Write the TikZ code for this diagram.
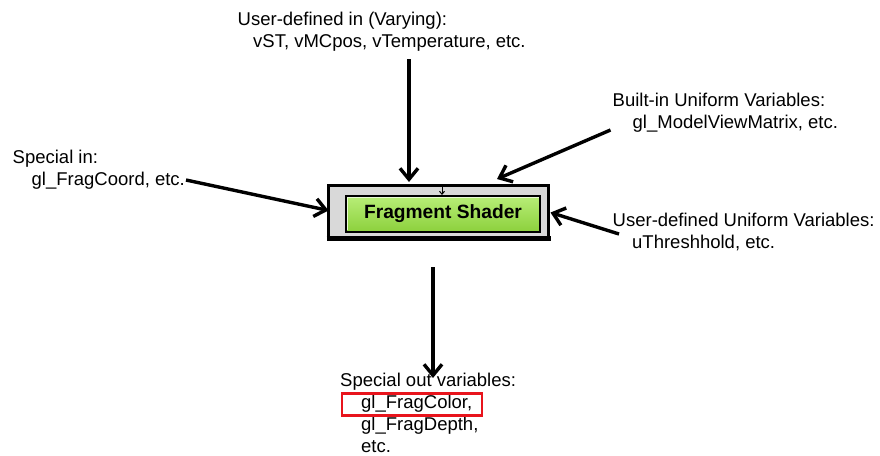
\documentclass[tikz,border=0pt]{standalone}
\usepackage{fontspec}
\setmainfont{Liberation Sans}
\usetikzlibrary{arrows.meta}
\definecolor{boxgray}{HTML}{D9D9D9}
\definecolor{greenA}{HTML}{B8EE78}
\definecolor{greenB}{HTML}{8CD03C}
\definecolor{hlred}{HTML}{E8141C}
\tikzset{
  lbl/.style={anchor=base west, inner sep=0pt, font=\fontsize{18.5}{22}\selectfont},
  arr/.style={line width=3.4pt, -{Straight Barb[length=11pt,width=18pt,line width=3.4pt]}},
  smallarr/.style={line width=1pt, -{Straight Barb[length=3pt,width=5pt,line width=1pt]}},
}
\begin{document}
\begin{tikzpicture}[x=1pt,y=-1pt]
\path[use as bounding box, fill=white] (0,0) rectangle (880,455);

% central shader box
\path[fill=boxgray, draw=black, line width=3pt] (328.5,185.5) rectangle (548.5,237) coordinate (obr);
\draw[line width=5pt] (326.5,238) -- (550.5,238);
\node[draw=black, line width=2pt, top color=greenA, bottom color=greenB,
      minimum width=194pt, minimum height=36pt, inner sep=0pt,
      font=\fontsize{19.2}{22}\bfseries\selectfont] (fs) at (443,214) {Fragment Shader};
\draw[white!70!greenA, line width=1pt] (347.5,229.5) -- (347.5,197.5) -- (538.5,197.5);
\coordinate (tickS) at (442,186.5);
\draw[smallarr] (tickS) -- (fs.north -| tickS);

% labels
\node[lbl] (top1) at (237.5,25) {User-defined in (Varying):};
\node[lbl] (top2) at (253,47) {vST, vMCpos, vTemperature, etc.};
\node[lbl] (bi1) at (612.5,106) {Built-in Uniform Variables:};
\node[lbl] (bi2) at (632.5,128) {gl\_ModelViewMatrix, etc.};
\node[lbl] (si1) at (12.5,163) {Special in:};
\node[lbl] (si2) at (31.5,185) {gl\_FragCoord, etc.};
\node[lbl] (ud1) at (612.5,226) {User-defined Uniform Variables:};
\node[lbl] (ud2) at (632,248) {uThreshhold, etc.};
\node[lbl] (so1) at (340,386) {Special out variables:};
\node[lbl] (so2) at (361,408) {gl\_FragColor,};
\node[lbl] (so3) at (361,430) {gl\_FragDepth,};
\node[lbl] (so4) at (361,452) {etc.};

% red highlight
\node[draw=hlred, line width=2.7pt, minimum width=140pt, minimum height=21.6pt, inner sep=0pt] (hl) at (412,404.5) {};

% arrow end points
\coordinate (aTopS) at (409,59);
\coordinate (aTopE) at (409,182);
\coordinate (aBiS) at (610.5,130);
\coordinate (aBiE) at (497,179);
\coordinate (aSiS) at (186,180);
\coordinate (aSiE) at (328.5,210.5);
\coordinate (aUdS) at (619,234);
\coordinate (aUdE) at (550.5,212.5);
\coordinate (aOutS) at (433,267);
\coordinate (aOutE) at (433,378);

\draw[arr] (aTopS) -- (aTopE);
\draw[arr] (aBiS) -- (aBiE);
\draw[arr] (aSiS) -- (aSiE);
\draw[arr] (aUdS) -- (aUdE);
\draw[arr] (aOutS) -- (aOutE);
\end{tikzpicture}
\end{document}
